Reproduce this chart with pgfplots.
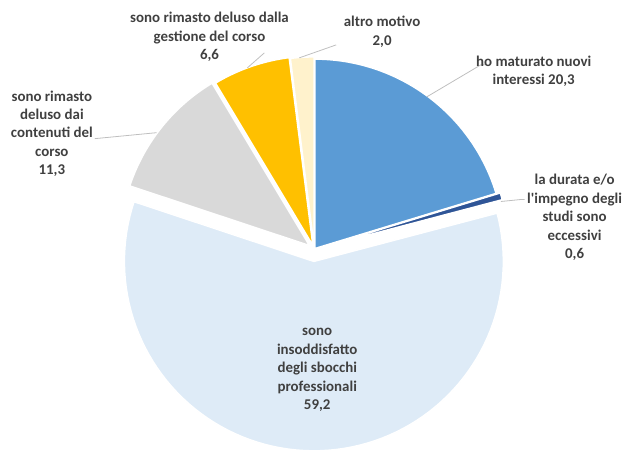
\documentclass[border=0pt]{standalone}
\usepackage{pgfplots}
\usepackage{pgfplotstable}
\pgfplotsset{compat=1.18}
\usepackage{fontspec}
\setmainfont{Carlito}
\definecolor{cBlue}{HTML}{5B9BD5}
\definecolor{cDark}{HTML}{2F5597}
\definecolor{cLight}{HTML}{DEEBF7}
\definecolor{cGray}{HTML}{D9D9D9}
\definecolor{cGold}{HTML}{FFC000}
\definecolor{cCream}{HTML}{FFF2CC}
\definecolor{txt}{HTML}{404040}
\definecolor{lead}{HTML}{BFBFBF}

\pgfplotstableread[col sep=comma]{
label,value,explode
ho maturato nuovi interessi,20.3,1
la durata e/o l'impegno degli studi sono eccessivi,0.6,5
sono insoddisfatto degli sbocchi professionali,59.2,12
sono rimasto deluso dai contenuti del corso,11.3,6
sono rimasto deluso dalla gestione del corso,6.6,4
altro motivo,2.0,3
}\piedata

\def\cx{315}
\def\cy{202}
\def\R{190}
\newcommand\getval[1]{\pgfplotstablegetelem{#1}{value}\of\piedata}
\newcommand\getexp[1]{\pgfplotstablegetelem{#1}{explode}\of\piedata}
\pgfmathsetmacro\angA{90}
\getval{0}\pgfmathsetmacro\angB{\angA-3.6*\pgfplotsretval}
\getval{1}\pgfmathsetmacro\angC{\angB-3.6*\pgfplotsretval}
\getval{2}\pgfmathsetmacro\angD{\angC-3.6*\pgfplotsretval}
\getval{3}\pgfmathsetmacro\angE{\angD-3.6*\pgfplotsretval}
\getval{4}\pgfmathsetmacro\angF{\angE-3.6*\pgfplotsretval}
\getval{5}\pgfmathsetmacro\angG{\angF-3.6*\pgfplotsretval}

% #1 row, #2 start angle, #3 end angle, #4 colour
\newcommand\slice[4]{%
  \getexp{#1}\let\ee\pgfplotsretval
  \pgfmathsetmacro\sx{\cx+\ee*cos((#2+#3)/2)}%
  \pgfmathsetmacro\sy{\cy+\ee*sin((#2+#3)/2)}%
  \edef\temp{\noexpand\addplot[fill=#4, draw=white, line width=1.6bp, line join=round, domain=#3:#2, samples=90]
     ({\sx+\R*cos(x)},{\sy+\R*sin(x)}) -- (axis cs:\sx,\sy) -- cycle;}%
  \temp
}

\begin{document}
\begin{tikzpicture}
\begin{axis}[x=1bp, y=1bp, xmin=0, xmax=622, ymin=0, ymax=452,
  hide axis, clip=false, scale only axis]
\path (rel axis cs:0,0) rectangle (rel axis cs:1,1);
\slice{0}{\angA}{\angB}{cBlue}
\slice{1}{\angB}{\angC}{cDark}
\slice{2}{\angC}{\angD}{cLight}
\slice{3}{\angD}{\angE}{cGray}
\slice{4}{\angE}{\angF}{cGold}
\slice{5}{\angF}{\angG}{cCream}
% leader lines
\addplot[lead, line width=0.8bp] coordinates {(428,355) (482,387) (487,387)};
\addplot[lead, line width=0.8bp] coordinates {(502,250) (522,252) (526,252)};
\addplot[lead, line width=0.8bp] coordinates {(95,313) (157,319)};
\addplot[lead, line width=0.8bp] coordinates {(248,384) (265,399)};
\addplot[lead, line width=0.8bp] coordinates {(300,394) (337,407)};
% labels
\tikzset{lbl/.style={align=center, text=txt, font=\fontsize{15}{18.5}\selectfont\bfseries, inner sep=0pt}}
\node[lbl] at (axis cs:535,380.5) {ho maturato nuovi\\interessi 20,3};
\node[lbl] at (axis cs:576,234) {la durata e/o\\l\textquotesingle impegno degli\\studi sono\\eccessivi\\0,6};
\node[lbl] at (axis cs:318,81) {sono\\insoddisfatto\\degli sbocchi\\professionali\\59,2};
\node[lbl] at (axis cs:52,318) {sono rimasto\\deluso dai\\contenuti del\\corso\\11,3};
\node[lbl] at (axis cs:210,415) {sono rimasto deluso dalla\\gestione del corso\\6,6};
\node[lbl] at (axis cs:383,420) {altro motivo\\2,0};
\end{axis}
\end{tikzpicture}
\end{document}
